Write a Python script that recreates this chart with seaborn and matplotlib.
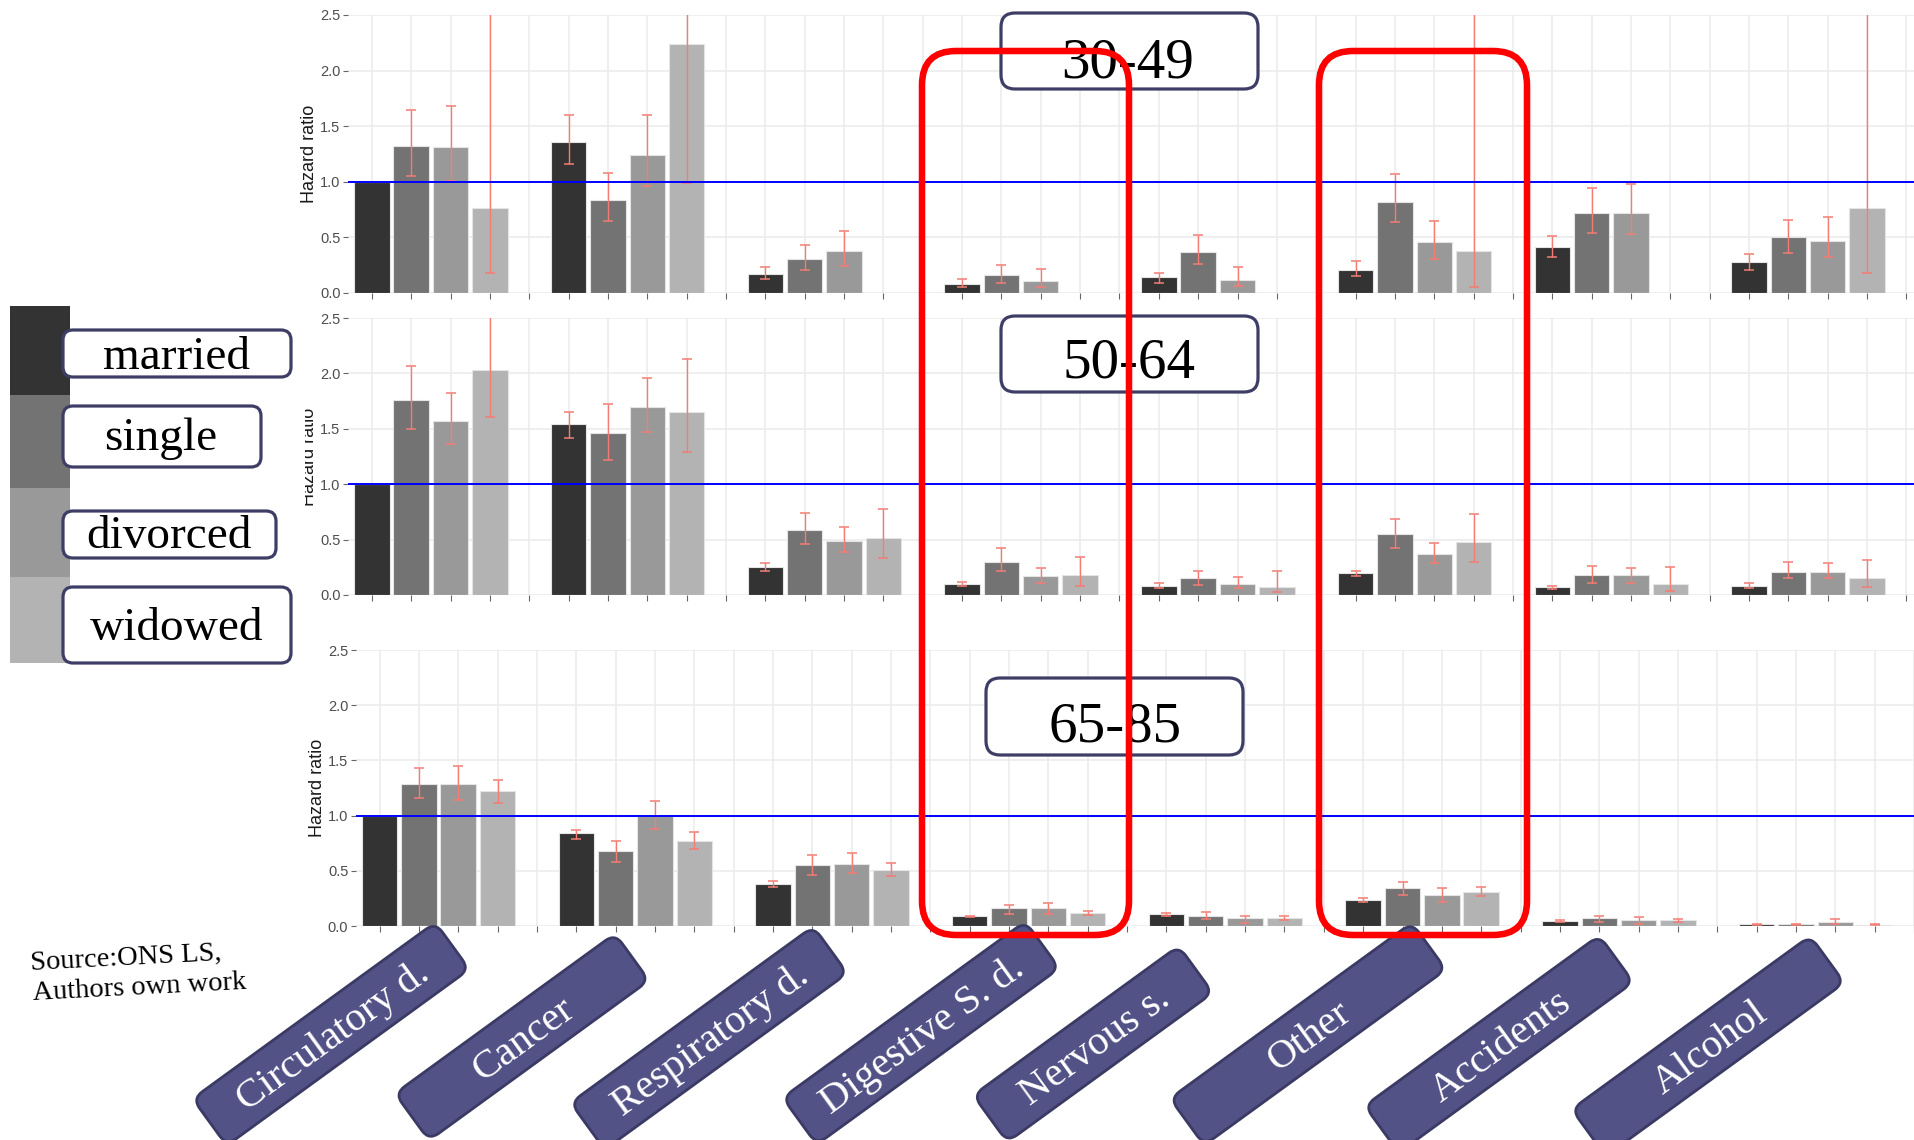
import numpy as np
import pandas as pd
import matplotlib
matplotlib.use("Agg")
import matplotlib.pyplot as plt
import seaborn as sns
from matplotlib.patches import FancyBboxPatch, Rectangle
from matplotlib.transforms import Affine2D

nan = np.nan

# ---------------------------------------------------------------- data
causes = ["Circulatory d.", "Cancer", "Respiratory d.", "Digestive S. d.",
          "Nervous s.", "Other", "Accidents", "Alcohol"]
statuses = ["married", "single", "divorced", "widowed"]
status_colors = ["#333333", "#737373", "#999999", "#B3B3B3"]
age_groups = ["30-49", "50-64", "65-85"]

# hazard ratios, rows = causes, columns = marital status
hr_30_49 = [
    [1.00, 1.32, 1.31, 0.76],
    [1.36, 0.84, 1.24, 2.24],
    [0.17, 0.31, 0.38, nan],
    [0.08, 0.16, 0.11, nan],
    [0.14, 0.37, 0.12, nan],
    [0.21, 0.82, 0.46, 0.38],
    [0.41, 0.72, 0.72, nan],
    [0.28, 0.50, 0.47, 0.76],
]
lo_30_49 = [
    [nan, 1.05, 1.01, 0.18],
    [1.16, 0.65, 0.96, 0.99],
    [0.13, 0.21, 0.24, nan],
    [0.05, 0.09, 0.05, nan],
    [0.09, 0.26, 0.06, nan],
    [0.15, 0.64, 0.31, 0.05],
    [0.32, 0.54, 0.53, nan],
    [0.21, 0.36, 0.32, 0.18],
]
hi_30_49 = [
    [nan, 1.65, 1.68, 4.10],
    [1.60, 1.08, 1.60, 5.20],
    [0.23, 0.43, 0.56, nan],
    [0.13, 0.25, 0.22, nan],
    [0.18, 0.52, 0.23, nan],
    [0.29, 1.07, 0.65, 3.00],
    [0.51, 0.94, 0.98, nan],
    [0.35, 0.66, 0.68, 3.10],
]

hr_50_64 = [
    [1.00, 1.76, 1.57, 2.03],
    [1.54, 1.46, 1.70, 1.65],
    [0.25, 0.59, 0.49, 0.51],
    [0.10, 0.30, 0.17, 0.18],
    [0.08, 0.15, 0.10, 0.07],
    [0.20, 0.55, 0.37, 0.48],
    [0.07, 0.18, 0.18, 0.10],
    [0.08, 0.21, 0.21, 0.15],
]
lo_50_64 = [
    [nan, 1.50, 1.36, 1.61],
    [1.42, 1.22, 1.47, 1.29],
    [0.22, 0.46, 0.39, 0.33],
    [0.08, 0.22, 0.11, 0.08],
    [0.06, 0.09, 0.06, 0.03],
    [0.17, 0.42, 0.29, 0.30],
    [0.05, 0.11, 0.11, 0.04],
    [0.06, 0.15, 0.15, 0.07],
]
hi_50_64 = [
    [nan, 2.07, 1.82, 3.40],
    [1.65, 1.72, 1.96, 2.13],
    [0.29, 0.74, 0.61, 0.78],
    [0.12, 0.42, 0.24, 0.34],
    [0.11, 0.22, 0.16, 0.22],
    [0.22, 0.69, 0.47, 0.73],
    [0.08, 0.26, 0.24, 0.25],
    [0.11, 0.30, 0.29, 0.32],
]

hr_65_85 = [
    [1.00, 1.29, 1.29, 1.22],
    [0.84, 0.68, 1.00, 0.77],
    [0.38, 0.55, 0.56, 0.51],
    [0.09, 0.16, 0.16, 0.12],
    [0.11, 0.09, 0.07, 0.07],
    [0.24, 0.34, 0.28, 0.31],
    [0.045, 0.07, 0.054, 0.054],
    [0.015, 0.015, 0.04, 0.012],
]
lo_65_85 = [
    [nan, 1.16, 1.14, 1.11],
    [0.79, 0.58, 0.88, 0.70],
    [0.35, 0.46, 0.48, 0.45],
    [0.08, 0.11, 0.11, 0.10],
    [0.09, 0.06, 0.03, 0.05],
    [0.22, 0.28, 0.22, 0.27],
    [0.033, 0.033, 0.018, 0.033],
    [0.006, 0.006, 0.018, 0.006],
]
hi_65_85 = [
    [nan, 1.43, 1.45, 1.32],
    [0.87, 0.77, 1.13, 0.85],
    [0.41, 0.64, 0.66, 0.57],
    [0.095, 0.19, 0.21, 0.14],
    [0.12, 0.13, 0.09, 0.09],
    [0.25, 0.40, 0.34, 0.35],
    [0.05, 0.094, 0.079, 0.066],
    [0.02, 0.021, 0.066, 0.021],
]

y_ticks = [0.0, 0.5, 1.0, 1.5, 2.0, 2.5]
source_lines = ["Source:ONS LS,", "Authors own work"]

hr_tab = {"30-49": hr_30_49, "50-64": hr_50_64, "65-85": hr_65_85}
lo_tab = {"30-49": lo_30_49, "50-64": lo_50_64, "65-85": lo_65_85}
hi_tab = {"30-49": hi_30_49, "50-64": hi_50_64, "65-85": hi_65_85}

rows = []
for age in age_groups:
    for ci, cause in enumerate(causes):
        for si, st in enumerate(statuses):
            v = hr_tab[age][ci][si]
            if np.isnan(v):
                continue
            rows.append(dict(age=age, cause=cause, status=st,
                             pos=ci * 5 + si + 1, hr=v,
                             lo=lo_tab[age][ci][si], hi=hi_tab[age][ci][si]))
df = pd.DataFrame(rows)

# ---------------------------------------------------------------- figure
W, H = 1914, 1140
sns.set_theme(style="white")
plt.rcParams["font.family"] = ["Liberation Sans", "DejaVu Sans"]
SERIF = ["Liberation Serif", "DejaVu Serif"]

fig = plt.figure(figsize=(W / 100, H / 100), dpi=100)
fig.patch.set_facecolor("white")

# transform for drawing in pixel units, origin top-left
img = Affine2D().scale(1, -1).translate(0, H).scale(1 / W, 1 / H) + fig.transFigure


def ftext(x, y, s, **kw):
    return fig.text(x / W, 1 - y / H, s, **kw)


slot = 39.35
panels = [  # left edge, top (y=2.5), bottom (y=0) in pixels
    (348.2, 15, 293),
    (348.2, 318, 595),
    (355.9, 650, 926),
]

for age, (left, top, bottom) in zip(age_groups, panels):
    ax = fig.add_axes([left / W, (H - bottom) / H, (W - left) / W, (bottom - top) / H])
    sub = df[df.age == age]
    sns.barplot(data=sub, x="pos", y="hr", hue="status", hue_order=statuses,
                palette=status_colors, native_scale=True, dodge=False, width=0.9,
                errorbar=None, edgecolor="#E4E4E4", linewidth=0.8, legend=False,
                ax=ax, zorder=2)
    e = sub.dropna(subset=["lo"])
    ax.errorbar(e.pos, e.hr, yerr=[e.hr - e.lo, e.hi - e.hr], fmt="none",
                ecolor="#F47C74", elinewidth=1.0, capsize=3.6, capthick=1.1, zorder=3)
    ax.axhline(1.0, color="#0000FF", lw=1.4, zorder=4)

    ax.set_xlim(0.4, 0.4 + (W - left) / slot)
    ax.set_ylim(0, 2.5)
    ax.set_xticks(np.arange(1, 41))
    ax.set_xticklabels([])
    ax.set_yticks(y_ticks)
    ax.set_yticklabels([f"{t:.1f}" for t in y_ticks])
    ax.grid(True, color="#EBEBEB", lw=1.1)
    ax.set_axisbelow(True)
    for s in ax.spines.values():
        s.set_visible(False)
    ax.tick_params(axis="x", bottom=True, length=4, width=0.8, color="#666666")
    ax.tick_params(axis="y", left=True, length=3.5, width=0.8, color="#666666",
                   labelsize=10.5, labelcolor="#4D4D4D", pad=2)
    ax.set_xlabel("")
    ax.set_ylabel("Hazard ratio", fontsize=13, color="#1A1A1A")
    ax.yaxis.set_label_coords(-0.0195, 0.5)

# white backing behind the legend block
fig.add_artist(Rectangle((0, 300), 305, 370, transform=img, facecolor="white",
                         edgecolor="none", zorder=5))

# ---------------------------------------------------------------- legend
swatch_y = [306, 395, 488, 577, 663]
for i, col in enumerate(status_colors):
    fig.add_artist(Rectangle((10, swatch_y[i]), 60, swatch_y[i + 1] - swatch_y[i],
                             transform=img, facecolor=col, edgecolor="none", zorder=6))

leg_boxes = [(63, 330, 228, 47), (63, 406, 198, 61), (63, 511, 213, 47), (63, 587, 228, 76)]
leg_text = [(176, 369), (161, 450), (169, 548), (177, 640)]
for st, (bx, by, bw, bh), (tx, ty) in zip(statuses, leg_boxes, leg_text):
    fig.add_artist(FancyBboxPatch((bx, by), bw, bh, boxstyle="round,pad=0,rounding_size=10",
                                  transform=img, facecolor="white", edgecolor="#3D3D66",
                                  lw=2.3, zorder=7))
    ftext(tx, ty, st, ha="center", va="baseline", fontsize=34, family=SERIF,
          color="black", zorder=8)

# ---------------------------------------------------------------- age group labels
age_boxes = [(1001, 13, 257, 76), (1001, 316, 257, 76), (986, 678, 257, 77)]
age_text = [(1128, 77), (1129, 378), (1115, 742)]
for age, (bx, by, bw, bh), (tx, ty) in zip(age_groups, age_boxes, age_text):
    fig.add_artist(FancyBboxPatch((bx, by), bw, bh, boxstyle="round,pad=0,rounding_size=14",
                                  transform=img, facecolor="white", edgecolor="#3D3D66",
                                  lw=2.3, zorder=6))
    ftext(tx, ty, age, ha="center", va="baseline", fontsize=41, family=SERIF,
          color="black", zorder=7)

# ---------------------------------------------------------------- highlight frames
for x0, x1 in [(922, 1129), (1319, 1527)]:
    fig.add_artist(FancyBboxPatch((x0, 51), x1 - x0, 935 - 51,
                                  boxstyle="round,pad=0,rounding_size=34",
                                  transform=img, facecolor="none", edgecolor="#FF0000",
                                  lw=4.7, zorder=9))

# ---------------------------------------------------------------- cause labels
angle = 36
cause_box = [  # centre x, centre y, length
    (331, 1034, 300), (522, 1037, 272), (709, 1038, 300), (921, 1033, 300),
    (1093, 1044, 254), (1308, 1034, 299), (1499, 1044, 290), (1708, 1046, 295),
]
bh = 58
for cause, (cx, cy, L) in zip(causes, cause_box):
    tr = Affine2D().rotate_deg(-angle).translate(cx, cy) + img
    fig.add_artist(FancyBboxPatch((-L / 2, -bh / 2), L, bh,
                                  boxstyle="round,pad=0,rounding_size=12",
                                  transform=tr, facecolor="#525287", edgecolor="#3A3A64",
                                  lw=2.0, zorder=6))
    ftext(cx + 2, cy + 3, cause, ha="center", va="center", rotation=angle,
          rotation_mode="anchor", fontsize=29.5, family=SERIF, color="white", zorder=7)

# ---------------------------------------------------------------- source note
ftext(31, 970, source_lines[0], ha="left", va="baseline", rotation=3,
      rotation_mode="anchor", fontsize=20.5, family=SERIF, color="black", zorder=6)
ftext(33, 1000, source_lines[1], ha="left", va="baseline", rotation=3,
      rotation_mode="anchor", fontsize=20.5, family=SERIF, color="black", zorder=6)

fig.savefig("out.png", dpi=100)
